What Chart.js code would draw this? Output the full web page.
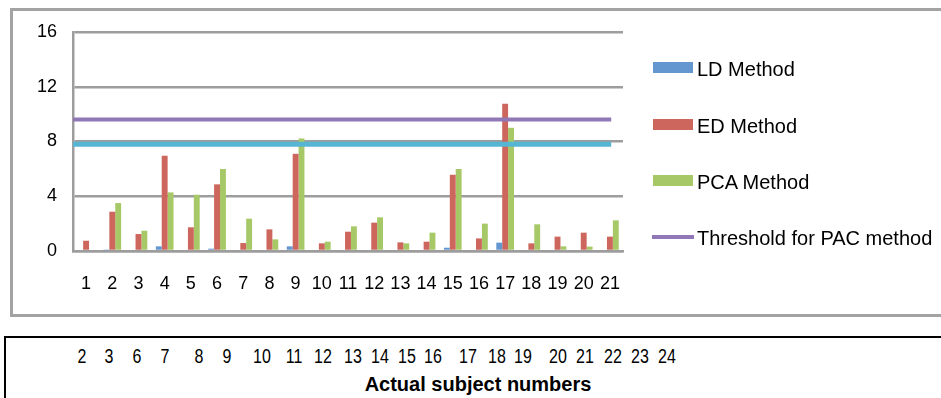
<!DOCTYPE html>
<html>
<head>
<meta charset="utf-8">
<script src="https://cdn.jsdelivr.net/npm/chart.js@4/dist/chart.umd.min.js"></script>
<style>
  html, body { margin: 0; padding: 0; background: #fff; }
  body { width: 941px; height: 398px; position: relative; overflow: hidden;
         font-family: "Liberation Sans", Arial, sans-serif; color: #000; }
  #frame { position: absolute; left: 10px; top: 8px; width: 960px; height: 309px;
           box-sizing: border-box; border: 3px solid #a3a3a3; }
  #chart { position: absolute; left: 0; top: 0; }
  .legend-item { position: absolute; left: 653px; height: 20px; }
  .legend-swatch { position: absolute; left: 0; width: 40px; }
  .legend-text { position: absolute; left: 44px; top: 0; font-size: 20px; line-height: 20px; white-space: nowrap; }
  #subjects { position: absolute; left: 4px; top: 336px; width: 960px; height: 100px;
              box-sizing: border-box; border: 2px solid #000; }
  .subj { position: absolute; top: 346px; font-size: 20px; line-height: 20px;
          transform: translateX(-50%) scaleX(0.8); white-space: nowrap; }
  #subj-title { position: absolute; top: 374px; left: 478px; transform: translateX(-50%);
                font-size: 20px; line-height: 20px; font-weight: bold; white-space: nowrap; }
</style>
</head>
<body>
<div id="frame"></div>
<canvas id="chart" width="941" height="320"></canvas>
<div id="legend"></div>
<div id="subjects"></div>
<div id="subj-title">Actual subject numbers</div>

<script>
// Subject index along the x axis
const subjectIndex = ['1','2','3','4','5','6','7','8','9','10','11','12','13','14','15','16','17','18','19','20','21'];

// Distance scores per subject for each method
const ldMethod  = [0, 0.05, 0, 0.34, 0, 0.17, 0, 0, 0.34, 0, 0, 0, 0, 0, 0.24, 0, 0.61, 0, 0, 0, 0];
const edMethod  = [0.75, 2.87, 1.24, 6.96, 1.73, 4.87, 0.58, 1.58, 7.10, 0.56, 1.41, 2.07, 0.63, 0.68, 5.57, 0.92, 10.75, 0.56, 1.05, 1.34, 1.05];
const pcaMethod = [0, 3.50, 1.48, 4.28, 4.11, 5.99, 2.36, 0.85, 8.22, 0.68, 1.80, 2.46, 0.56, 1.34, 5.99, 2.00, 9.00, 1.95, 0.34, 0.32, 2.24];

// Decision thresholds and the span of category positions they cover
const pacThreshold = 9.6;
const edThreshold = 7.8;
const thresholdSpan = [-0.5, 20.05];

// Value axis ticks
const yTicks = [0, 4, 8, 12, 16];

// Actual subject numbers listed under the chart
const actualSubjects = ['2','3','6','7','8','9','10','11','12','13','14','15','16','17','18','19','20','21','22','23','24'];

const COLORS = {
  ld: '#6497cf',
  ed: '#cd665c',
  pca: '#a6c866',
  pac: '#8f78b5',
  edLine: '#55b5d3',
  grid: '#9d9d9d'
};
const FONT = '"Liberation Sans", Arial, sans-serif';

// Threshold lines, drawn over the bars along the value scale
const thresholdLines = [
  { value: edThreshold, color: COLORS.edLine, width: 5 },
  { value: pacThreshold, color: COLORS.pac, width: 4 }
];
const thresholdPlugin = {
  id: 'thresholds',
  afterDatasetsDraw(chart) {
    const { ctx, scales: { x, y } } = chart;
    const x0 = x.getPixelForValue(thresholdSpan[0]);
    const x1 = x.getPixelForValue(thresholdSpan[1]);
    ctx.save();
    thresholdLines.forEach(t => {
      const py = y.getPixelForValue(t.value);
      ctx.beginPath();
      ctx.strokeStyle = t.color;
      ctx.lineWidth = t.width;
      ctx.moveTo(x0, py);
      ctx.lineTo(x1, py);
      ctx.stroke();
    });
    ctx.restore();
  }
};

new Chart(document.getElementById('chart'), {
  type: 'bar',
  data: {
    labels: subjectIndex,
    datasets: [
      { label: 'LD Method', data: ldMethod, backgroundColor: COLORS.ld },
      { label: 'ED Method', data: edMethod, backgroundColor: COLORS.ed },
      { label: 'PCA Method', data: pcaMethod, backgroundColor: COLORS.pca }
    ]
  },
  plugins: [thresholdPlugin],
  options: {
    responsive: false,
    animation: false,
    layout: { padding: { top: 32, right: 318, bottom: 0, left: 0 } },
    datasets: { bar: { categoryPercentage: 0.675, barPercentage: 1 } },
    plugins: { legend: { display: false }, tooltip: { enabled: false } },
    scales: {
      x: {
        grid: { display: false },
        border: { display: true, color: COLORS.grid, width: 2.5 },
        ticks: { color: '#000', font: { family: FONT, size: 18 }, padding: 14,
                 maxRotation: 0, autoSkip: false },
        afterFit(s) { s.height = 69; }
      },
      y: {
        min: 0, max: 16,
        afterBuildTicks(s) { s.ticks = yTicks.map(v => ({ value: v })); },
        ticks: { color: '#000', font: { family: FONT, size: 18 }, padding: 16 },
        grid: { color: COLORS.grid, lineWidth: 2.5, drawTicks: false },
        border: { display: true, color: COLORS.grid, width: 2.5 },
        afterFit(s) { s.width = 73; }
      }
    }
  }
});

// Legend entries: [label, colour, kind]
const legendEntries = [
  ['LD Method', COLORS.ld, 'box'],
  ['ED Method', COLORS.ed, 'box'],
  ['PCA Method', COLORS.pca, 'box'],
  ['Threshold for PAC method', COLORS.pac, 'line']
];
const legendTops = [58.5, 116, 172, 227.5];
const legend = document.getElementById('legend');
legendEntries.forEach(([text, color, kind], i) => {
  const item = document.createElement('div');
  item.className = 'legend-item';
  item.style.top = legendTops[i] + 'px';
  const sw = document.createElement('div');
  sw.className = 'legend-swatch';
  sw.style.background = color;
  if (kind === 'box') { sw.style.top = '3px'; sw.style.height = '11px'; }
  else { sw.style.top = '7px'; sw.style.height = '4px'; sw.style.left = '-1px'; sw.style.width = '42px'; }
  const tx = document.createElement('div');
  tx.className = 'legend-text';
  tx.textContent = text;
  item.appendChild(sw);
  item.appendChild(tx);
  legend.appendChild(item);
});

// Horizontal placement of the actual subject numbers
const subjectX = [82, 109, 137, 165, 199, 227, 262, 294, 323, 353, 380, 407, 433, 468, 497, 523, 558, 585, 613, 640, 667];
actualSubjects.forEach((s, i) => {
  const d = document.createElement('div');
  d.className = 'subj';
  d.style.left = subjectX[i] + 'px';
  d.textContent = s;
  document.body.appendChild(d);
});
</script>
</body>
</html>
